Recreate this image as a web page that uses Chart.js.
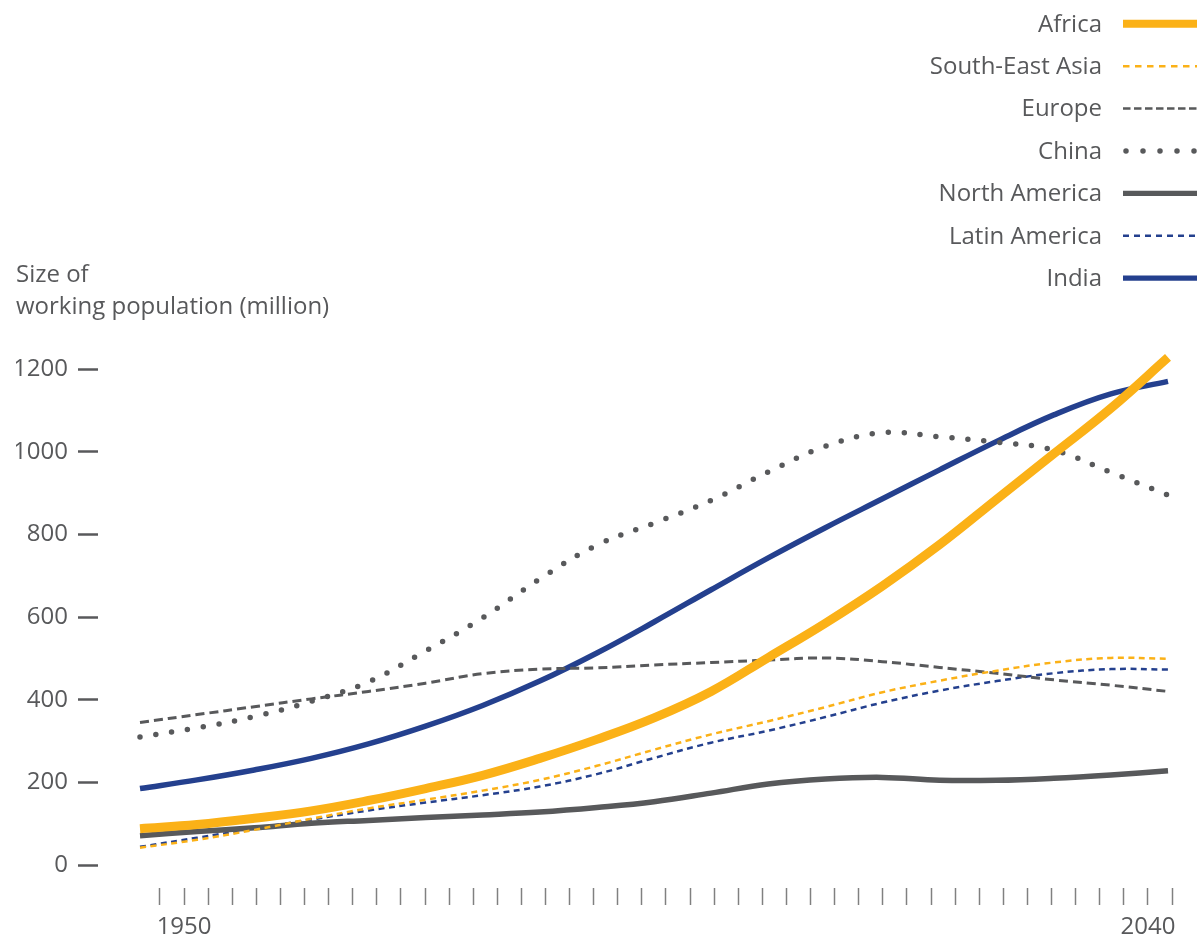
<!DOCTYPE html>
<html>
<head>
<meta charset="utf-8">
<title>Working population by region</title>
<script src="https://cdn.jsdelivr.net/npm/chart.js@4.4.0/dist/chart.umd.min.js"></script>
<style>
  html, body { margin: 0; padding: 0; background: #ffffff; }
  #wrap { width: 1204px; height: 944px; }
</style>
</head>
<body>
<div id="wrap"><canvas id="chart" width="1204" height="944"></canvas></div>
<script>
// Years sampled for every series
const years = [1950, 1955, 1960, 1965, 1970, 1975, 1980, 1985, 1990, 1995,
               2000, 2005, 2010, 2015, 2020, 2025, 2030, 2035, 2040];

// Working-age population, millions
const africa        = [88, 98, 113, 131, 156, 185, 217, 258, 304, 356, 420, 502, 585, 675, 775, 885, 995, 1105, 1228];
const southEastAsia = [42, 61, 85, 112, 137, 158, 180, 206, 240, 279, 316, 348, 382, 418, 446, 470, 490, 501, 499];
const europe        = [345, 364, 383, 402, 420, 440, 463, 474, 477, 484, 490, 496, 501, 492, 478, 464, 448, 435, 420];
const china         = [310, 332, 359, 396, 443, 518, 598, 692, 774, 827, 882, 951, 1013, 1046, 1036, 1023, 1004, 950, 895];
const northAmerica  = [71, 81, 90, 101, 108, 115, 121, 128, 139, 153, 174, 196, 208, 212, 205, 205, 210, 218, 228];
const latinAmerica  = [44, 66, 88, 110, 132, 151, 169, 190, 220, 259, 296, 325, 358, 393, 422, 445, 464, 474, 473];
const india         = [185, 206, 230, 258, 293, 336, 386, 445, 513, 588, 666, 743, 816, 886, 956, 1025, 1089, 1140, 1170];

// Axis ticks
const yTickValues = [0, 200, 400, 600, 800, 1000, 1200];
const xTickLabels = ['', '1950', '', '', '', '', '', '', '', '', '', '', '', '', '', '', '', '', '', '', '',
                     '', '', '', '', '', '', '', '', '', '', '', '', '', '', '', '', '', '', '', '', '2040', ''];

const titleLines = ['Size of', 'working population (million)'];

const YELLOW = '#fbb117';
const BLUE = '#24408e';
const GREY = '#58595b';
const TEXT = '#58595b';
const FONT = '"Open Sans", "Noto Sans", sans-serif';
const FONT_SIZE = 24;

const pairs = (values) => values.map((v, i) => ({ x: years[i], y: v }));

const series = (label, values, color, width, dash, cap) => ({
  label,
  data: pairs(values),
  borderColor: color,
  backgroundColor: color,
  borderWidth: width,
  borderDash: dash,
  borderCapStyle: cap,
  pointRadius: 0,
  pointHoverRadius: 0,
  fill: false,
  tension: 0.4,
  clip: false,
  xAxisID: 'x',
  yAxisID: 'y'
});

// Line samples for the key, one per series in dataset order
const keySamples = [
  { width: 8,   dash: [],         cap: 'butt'  },
  { width: 2.5, dash: [6.5, 5.5], cap: 'butt'  },
  { width: 2.5, dash: [7.5, 3.5], cap: 'butt'  },
  { width: 5.5, dash: [0, 17],    cap: 'round' },
  { width: 5.3, dash: [],         cap: 'butt'  },
  { width: 2.5, dash: [6, 5],     cap: 'butt'  },
  { width: 5.3, dash: [],         cap: 'butt'  }
];

// Axis title and key, drawn on the canvas from the chart's own datasets
const sideText = {
  id: 'sideText',
  afterDraw(chart) {
    const ctx = chart.ctx;
    ctx.save();
    ctx.font = `${FONT_SIZE}px ${FONT}`;
    ctx.fillStyle = TEXT;
    ctx.textBaseline = 'alphabetic';
    ctx.textAlign = 'left';
    titleLines.forEach((line, i) => ctx.fillText(line, 16, 282 + 32 * i));

    chart.data.datasets.forEach((ds, i) => {
      const base = 31.5 + 42.4 * i;
      const mid = base - 7.7;
      ctx.textAlign = 'right';
      ctx.fillStyle = TEXT;
      ctx.fillText(ds.label, 1102, base);
      const s = keySamples[i];
      ctx.beginPath();
      ctx.setLineDash(s.dash);
      ctx.lineWidth = s.width;
      ctx.lineCap = s.cap;
      ctx.strokeStyle = ds.borderColor;
      if (s.cap === 'round') {
        ctx.moveTo(1126, mid);
        ctx.lineTo(1194.5, mid);
      } else {
        ctx.moveTo(1123, mid);
        ctx.lineTo(1197, mid);
      }
      ctx.stroke();
    });
    ctx.restore();
  }
};

Chart.defaults.font.family = FONT;
Chart.defaults.font.size = FONT_SIZE;
Chart.defaults.color = TEXT;

new Chart(document.getElementById('chart'), {
  type: 'line',
  data: {
    datasets: [
      series('Africa', africa, YELLOW, 9, [], 'butt'),
      series('South-East Asia', southEastAsia, YELLOW, 2.5, [6, 4.5], 'butt'),
      series('Europe', europe, GREY, 3, [9, 5], 'butt'),
      series('China', china, GREY, 5.5, [0, 16], 'round'),
      series('North America', northAmerica, GREY, 5.5, [], 'butt'),
      series('Latin America', latinAmerica, BLUE, 2.5, [6, 4.5], 'butt'),
      series('India', india, BLUE, 5.5, [], 'butt')
    ]
  },
  options: {
    responsive: false,
    devicePixelRatio: 1,
    animation: false,
    events: [],
    layout: { padding: { top: 352.5, left: 16, right: 14, bottom: 0 } },
    plugins: {
      legend: { display: false },
      title: { display: false },
      tooltip: { enabled: false }
    },
    scales: {
      x: {
        type: 'linear',
        display: false,
        min: 1946.323,
        max: 2041.926
      },
      xt: {
        type: 'linear',
        position: 'bottom',
        min: -2.573,
        max: 42.747,
        afterBuildTicks: (scale) => {
          scale.ticks = xTickLabels.map((_, i) => ({ value: i }));
        },
        afterFit: (scale) => { scale.height = 56; },
        ticks: {
          autoSkip: false,
          maxRotation: 0,
          padding: 8,
          color: TEXT,
          callback: (value, index) => xTickLabels[index]
        },
        grid: {
          drawOnChartArea: false,
          drawTicks: true,
          tickLength: 17,
          tickColor: '#808080',
          tickWidth: 1.5
        },
        border: { display: false }
      },
      y: {
        type: 'linear',
        position: 'left',
        min: -55.6,
        max: 1240,
        afterBuildTicks: (scale) => {
          scale.ticks = yTickValues.map((v) => ({ value: v }));
        },
        afterFit: (scale) => { scale.width = 82; },
        ticks: {
          padding: 10,
          color: TEXT,
          callback: (value) => String(value)
        },
        grid: {
          drawOnChartArea: false,
          drawTicks: true,
          tickLength: 20,
          tickColor: GREY,
          tickWidth: 2.5
        },
        border: { display: false }
      }
    }
  },
  plugins: [sideText]
});
</script>
</body>
</html>
